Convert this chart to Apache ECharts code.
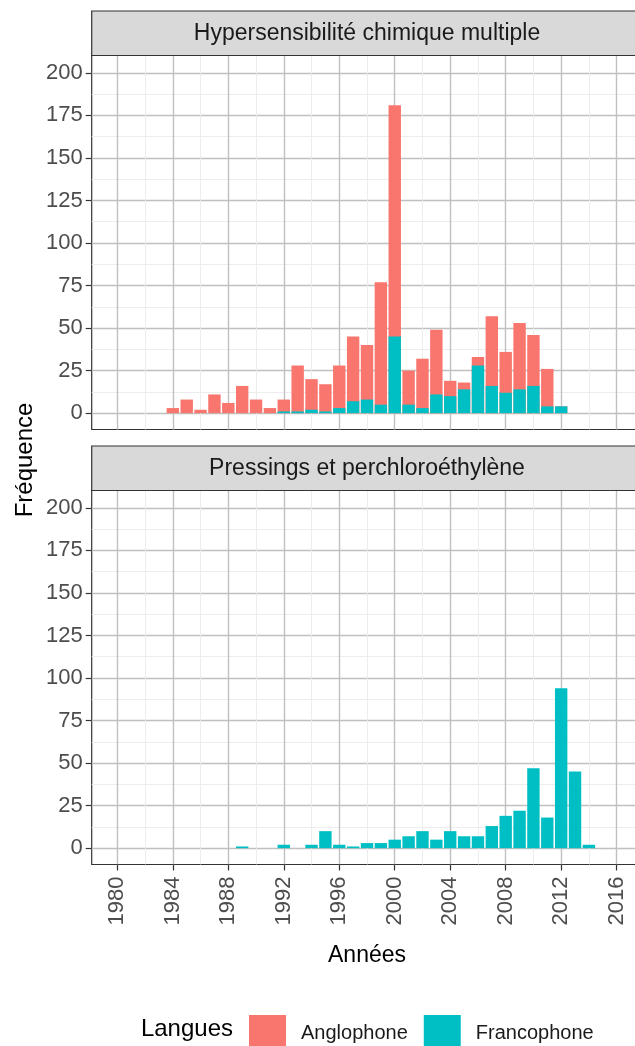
<!DOCTYPE html>
<html>
<head>
<meta charset="utf-8">
<script src="https://cdn.jsdelivr.net/npm/echarts@6/dist/echarts.min.js"></script>
<style>
  html, body { margin: 0; padding: 0; background: #ffffff; }
  #chart { width: 635px; height: 1046px; }
</style>
</head>
<body>
<div id="chart"></div>
<script>
// Publications par année et par langue, pour les deux thèmes
const annees = [1984, 1985, 1986, 1987, 1988, 1989, 1990, 1991, 1992, 1993, 1994, 1995, 1996, 1997, 1998, 1999,
                2000, 2001, 2002, 2003, 2004, 2005, 2006, 2007, 2008, 2009, 2010, 2011, 2012, 2013, 2014];

// Hypersensibilité chimique multiple
const hcmFrancophone = [0, 0, 0, 0, 0, 0, 0, 0, 1, 1, 2, 1, 3, 7, 8, 5,
                        45, 5, 3, 11, 10, 14, 28, 16, 12, 14, 16, 4, 4, 0, 0];
const hcmAnglophone  = [3, 8, 2, 11, 6, 16, 8, 3, 7, 27, 18, 16, 25, 38, 32, 72,
                        136, 20, 29, 38, 9, 4, 5, 41, 24, 39, 30, 22, 0, 0, 0];

// Pressings et perchloroéthylène
const pressingFrancophone = [0, 0, 0, 0, 0, 1, 0, 0, 2, 0, 2, 10, 2, 1, 3, 3,
                             5, 7, 10, 5, 10, 7, 7, 13, 19, 22, 47, 18, 94, 45, 2];

const panneaux = ['Hypersensibilité chimique multiple', 'Pressings et perchloroéthylène'];
const langues = ['Anglophone', 'Francophone'];

const ticksAnnees = [1980, 1984, 1988, 1992, 1996, 2000, 2004, 2008, 2012, 2016];
const ticksAnneesMineurs = [1982, 1986, 1990, 1994, 1998, 2002, 2006, 2010, 2014];
const ticksFrequence = [0, 25, 50, 75, 100, 125, 150, 175, 200];
const ticksFrequenceMineurs = [12.5, 37.5, 62.5, 87.5, 112.5, 137.5, 162.5, 187.5];

const COULEURS = { Anglophone: '#F8766D', Francophone: '#00BFC4' };
const POLICE = '"Liberation Sans", Arial, sans-serif';
const GRIS_TEXTE = '#4d4d4d';
const BORD = '#333333';
const GRILLE_MAJ = '#c0c0c0';
const GRILLE_MIN = '#ebebeb';

const X_MIN = 1978.15, X_MAX = 2017.85;
const Y_MIN = -9.6, Y_MAX = 210.2;

const PANNEAU_LEFT = 91.7, PANNEAU_WIDTH = 550.6, PANNEAU_HEIGHT = 374;
const PANNEAU_TOPS = [55.5, 490.5];
const BANDEAU_H = 44.5;

const grids = PANNEAU_TOPS.map(t => ({
  left: PANNEAU_LEFT, top: t, width: PANNEAU_WIDTH, height: PANNEAU_HEIGHT,
  outerBoundsMode: 'none', containLabel: false,
  show: true, backgroundColor: '#ffffff', borderColor: BORD, borderWidth: 1.2, z: 0
}));

const xAxes = [];
const yAxes = [];
grids.forEach((g, gi) => {
  const basPanneau = gi === grids.length - 1;
  // grille mineure
  xAxes.push({
    type: 'value', gridIndex: gi, position: 'bottom', min: X_MIN, max: X_MAX,
    axisLine: { show: false, onZero: false },
    axisTick: { show: false, customValues: ticksAnneesMineurs },
    axisLabel: { show: false, customValues: ticksAnneesMineurs },
    splitLine: { show: true, lineStyle: { color: GRILLE_MIN, width: 0.9 } }
  });
  // grille principale, graduations et libellés
  xAxes.push({
    type: 'value', gridIndex: gi, position: 'bottom', min: X_MIN, max: X_MAX,
    axisLine: { show: false, onZero: false },
    axisTick: { show: basPanneau, customValues: ticksAnnees, length: 6, lineStyle: { color: BORD, width: 1.2 } },
    axisLabel: {
      show: basPanneau, customValues: ticksAnnees, rotate: 90, margin: 12,
      fontSize: 22, fontFamily: POLICE, color: GRIS_TEXTE, formatter: v => String(v)
    },
    splitLine: { show: true, lineStyle: { color: GRILLE_MAJ, width: 1.4 } },
    name: basPanneau ? 'Années' : '', nameLocation: 'middle', nameGap: 80,
    nameTextStyle: { fontSize: 23, fontFamily: POLICE, color: '#000000' }
  });
  yAxes.push({
    type: 'value', gridIndex: gi, position: 'left', min: Y_MIN, max: Y_MAX,
    axisLine: { show: false, onZero: false },
    axisTick: { show: false, customValues: ticksFrequenceMineurs },
    axisLabel: { show: false, customValues: ticksFrequenceMineurs },
    splitLine: { show: true, lineStyle: { color: GRILLE_MIN, width: 0.9 } }
  });
  yAxes.push({
    type: 'value', gridIndex: gi, position: 'left', min: Y_MIN, max: Y_MAX,
    axisLine: { show: false, onZero: false },
    axisTick: { show: true, customValues: ticksFrequence, length: 6, lineStyle: { color: BORD, width: 1.2 } },
    axisLabel: {
      show: true, customValues: ticksFrequence, margin: 9,
      fontSize: 22, fontFamily: POLICE, color: GRIS_TEXTE, formatter: v => String(v)
    },
    splitLine: { show: true, lineStyle: { color: GRILLE_MAJ, width: 1.4 } }
  });
});

const paires = vals => annees.map((a, i) => [a, vals[i]]);
// total par année : la part anglophone s'empile au-dessus de la part francophone
const hcmTotal = hcmFrancophone.map((v, i) => v + hcmAnglophone[i]);

const barre = (nom, gi, donnees) => ({
  type: 'bar', name: nom, xAxisIndex: gi * 2 + 1, yAxisIndex: gi * 2 + 1,
  data: paires(donnees), barWidth: 12.4, barGap: '-100%',
  itemStyle: { color: COULEURS[nom] }, z: 3
});

const series = [
  barre('Anglophone', 0, hcmTotal),
  barre('Francophone', 0, hcmFrancophone),
  barre('Francophone', 1, pressingFrancophone)
];

const graphics = [];
PANNEAU_TOPS.forEach((t, i) => {
  graphics.push({
    type: 'rect', z: 1,
    shape: { x: PANNEAU_LEFT, y: t - BANDEAU_H, width: PANNEAU_WIDTH, height: BANDEAU_H },
    style: { fill: '#d9d9d9', stroke: BORD, lineWidth: 1.2 }
  });
  graphics.push({
    type: 'text', z: 2, x: PANNEAU_LEFT + PANNEAU_WIDTH / 2, y: t - BANDEAU_H / 2,
    style: { text: panneaux[i], font: '23px ' + POLICE, fill: '#1a1a1a', align: 'center', verticalAlign: 'middle' }
  });
});
graphics.push({
  type: 'text', x: 25, y: 460, rotation: Math.PI / 2,
  style: { text: 'Fréquence', font: '24px ' + POLICE, fill: '#000000', align: 'center', verticalAlign: 'middle' }
});
graphics.push({
  type: 'text', x: 233, y: 1029,
  style: { text: 'Langues', font: '24px ' + POLICE, fill: '#000000', align: 'right', verticalAlign: 'middle' }
});

const chart = echarts.init(document.getElementById('chart'), null, { renderer: 'canvas' });
chart.setOption({
  animation: false,
  backgroundColor: '#ffffff',
  grid: grids,
  xAxis: xAxes,
  yAxis: yAxes,
  series: series,
  legend: {
    data: langues, left: 244, top: 1010, itemWidth: 37, itemHeight: 37, itemGap: 16,
    icon: 'rect', selectedMode: false,
    textStyle: { fontSize: 20, fontFamily: POLICE, color: '#1a1a1a', padding: [0, 0, 0, 10] }
  },
  graphic: graphics
});
</script>
</body>
</html>
